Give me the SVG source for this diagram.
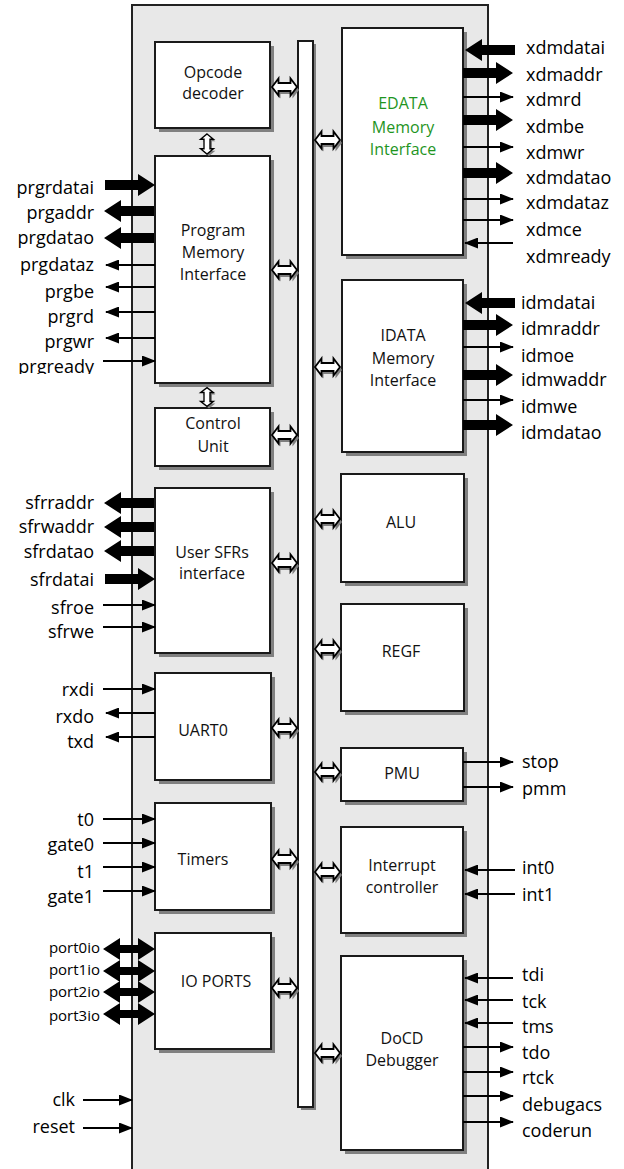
<svg xmlns="http://www.w3.org/2000/svg" xmlns:xlink="http://www.w3.org/1999/xlink" width="624" height="1169" viewBox="0 0 624 1169">
<style>
.blk{fill:#fff;stroke:#1a1a1a;stroke-width:2}
.shd{fill:#808080}
.bt{font-family:"Open Sans","Noto Sans",sans-serif;font-size:16px;fill:#111;text-anchor:middle}
.gt{fill:#1f951f}
.lr{font-family:"Open Sans","Noto Sans",sans-serif;font-size:18px;fill:#000;text-anchor:end}
.ll{font-family:"Open Sans","Noto Sans",sans-serif;font-size:18px;fill:#000;text-anchor:start}
.lp{font-size:15px}
.tn{stroke:#000;stroke-width:2;fill:none;marker-end:url(#ah)}
.tk{fill:#000}
.hb{fill:#fff;stroke:#000;stroke-width:1.8}
.hs{fill:#7f7f7f}
</style>
<defs>
<marker id="ah" markerUnits="userSpaceOnUse" markerWidth="14" markerHeight="11" refX="13" refY="5.5" orient="auto"><path d="M0,0 L14,5.5 L0,11 Z" fill="#000"/></marker>
<path id="thk" d="M-50,-5 H-17 V-11 L0,0 L-17,11 V5 H-50 Z"/>
<path id="bid" d="M0,0 L17,-11 V-4 H35 V-11 L52,0 L35,11 V4 H17 V11 Z"/>
<path id="hdb" d="M-12.5,0 L-6,-8.5 V-4 H6 V-8.5 L12.5,0 L6,8.5 V4 H-6 V8.5 Z"/>
<clipPath id="clipReady"><rect x="0" y="340" width="132" height="34"/></clipPath>
</defs>

<g id="chip">
<rect x="132" y="5" width="356" height="1175" fill="#e8e8e8" stroke="#222" stroke-width="2"/>
</g>

<g id="bus">
<rect x="301" y="44" width="15" height="1066" class="shd"/>
<rect x="298" y="41" width="15" height="1066" class="blk"/>
</g>

<g id="opcode">
<rect x="159" y="46" width="115" height="86" class="shd"/>
<rect x="155" y="42" width="115" height="86" class="blk"/>
<text class="bt" x="213" y="78">Opcode</text>
<text class="bt" x="213" y="99">decoder</text>
</g>
<g id="program">
<rect x="159" y="160" width="115" height="227" class="shd"/>
<rect x="155" y="156" width="115" height="227" class="blk"/>
<text class="bt" x="213" y="236">Program</text>
<text class="bt" x="213" y="258">Memory</text>
<text class="bt" x="213" y="280">Interface</text>
</g>
<g id="control">
<rect x="159" y="412" width="115" height="58" class="shd"/>
<rect x="155" y="408" width="115" height="58" class="blk"/>
<text class="bt" x="213" y="429">Control</text>
<text class="bt" x="213" y="452">Unit</text>
</g>
<g id="sfr">
<rect x="159" y="492" width="115" height="165" class="shd"/>
<rect x="155" y="488" width="115" height="165" class="blk"/>
<text class="bt" x="212" y="558">User SFRs</text>
<text class="bt" x="212" y="579">interface</text>
</g>
<g id="uart">
<rect x="159" y="677" width="116" height="107" class="shd"/>
<rect x="155" y="673" width="116" height="107" class="blk"/>
<text class="bt" x="203" y="736">UART0</text>
</g>
<g id="timers">
<rect x="159" y="807" width="116" height="107" class="shd"/>
<rect x="155" y="803" width="116" height="107" class="blk"/>
<text class="bt" x="203" y="865">Timers</text>
</g>
<g id="ioports">
<rect x="159" y="937" width="116" height="116" class="shd"/>
<rect x="155" y="933" width="116" height="116" class="blk"/>
<text class="bt" x="216" y="987">IO PORTS</text>
</g>
<g id="edata">
<rect x="346" y="32" width="121" height="227" class="shd"/>
<rect x="342" y="28" width="121" height="227" class="blk"/>
<text class="bt gt" x="403" y="109">EDATA</text>
<text class="bt gt" x="403" y="133">Memory</text>
<text class="bt gt" x="403" y="155">Interface</text>
</g>
<g id="idata">
<rect x="346" y="284" width="121" height="172" class="shd"/>
<rect x="342" y="280" width="121" height="172" class="blk"/>
<text class="bt" x="403" y="341">IDATA</text>
<text class="bt" x="403" y="364">Memory</text>
<text class="bt" x="403" y="386">Interface</text>
</g>
<g id="alu">
<rect x="345" y="478" width="123" height="108" class="shd"/>
<rect x="341" y="474" width="123" height="108" class="blk"/>
<text class="bt" x="401" y="528">ALU</text>
</g>
<g id="regf">
<rect x="345" y="608" width="123" height="107" class="shd"/>
<rect x="341" y="604" width="123" height="107" class="blk"/>
<text class="bt" x="401" y="657">REGF</text>
</g>
<g id="pmu">
<rect x="345" y="752" width="122" height="53" class="shd"/>
<rect x="341" y="748" width="122" height="53" class="blk"/>
<text class="bt" x="402" y="779">PMU</text>
</g>
<g id="intc">
<rect x="345" y="831" width="122" height="106" class="shd"/>
<rect x="341" y="827" width="122" height="106" class="blk"/>
<text class="bt" x="402" y="871">Interrupt</text>
<text class="bt" x="402" y="893">controller</text>
</g>
<g id="docd">
<rect x="345" y="960" width="122" height="194" class="shd"/>
<rect x="341" y="956" width="122" height="194" class="blk"/>
<text class="bt" x="402" y="1044">DoCD</text>
<text class="bt" x="402" y="1066">Debugger</text>
</g>

<g id="connectors">
<g>
<use xlink:href="#hdb" class="hs" transform="translate(286.5,90)"/><use xlink:href="#hdb" class="hb" transform="translate(284.5,87)"/>
<use xlink:href="#hdb" class="hs" transform="translate(286.5,273)"/><use xlink:href="#hdb" class="hb" transform="translate(284.5,270)"/>
<use xlink:href="#hdb" class="hs" transform="translate(286.5,438)"/><use xlink:href="#hdb" class="hb" transform="translate(284.5,435)"/>
<use xlink:href="#hdb" class="hs" transform="translate(286.5,566)"/><use xlink:href="#hdb" class="hb" transform="translate(284.5,563)"/>
<use xlink:href="#hdb" class="hs" transform="translate(286.5,731)"/><use xlink:href="#hdb" class="hb" transform="translate(284.5,728)"/>
<use xlink:href="#hdb" class="hs" transform="translate(286.5,862)"/><use xlink:href="#hdb" class="hb" transform="translate(284.5,859)"/>
<use xlink:href="#hdb" class="hs" transform="translate(286.5,991)"/><use xlink:href="#hdb" class="hb" transform="translate(284.5,988)"/>
<use xlink:href="#hdb" class="hs" transform="translate(329.5,143)"/><use xlink:href="#hdb" class="hb" transform="translate(327.5,140)"/>
<use xlink:href="#hdb" class="hs" transform="translate(329.5,370)"/><use xlink:href="#hdb" class="hb" transform="translate(327.5,367)"/>
<use xlink:href="#hdb" class="hs" transform="translate(329.5,522)"/><use xlink:href="#hdb" class="hb" transform="translate(327.5,519)"/>
<use xlink:href="#hdb" class="hs" transform="translate(329.5,652)"/><use xlink:href="#hdb" class="hb" transform="translate(327.5,649)"/>
<use xlink:href="#hdb" class="hs" transform="translate(329.5,775)"/><use xlink:href="#hdb" class="hb" transform="translate(327.5,772)"/>
<use xlink:href="#hdb" class="hs" transform="translate(329.5,875)"/><use xlink:href="#hdb" class="hb" transform="translate(327.5,872)"/>
<use xlink:href="#hdb" class="hs" transform="translate(329.5,1056)"/><use xlink:href="#hdb" class="hb" transform="translate(327.5,1053)"/>
<use xlink:href="#hdb" class="hs" transform="translate(209,146) rotate(90) scale(0.8,0.75)"/><use xlink:href="#hdb" class="hb" transform="translate(207,144) rotate(90) scale(0.8,0.75)"/>
<use xlink:href="#hdb" class="hs" transform="translate(209,399) rotate(90) scale(0.75,0.75)"/><use xlink:href="#hdb" class="hb" transform="translate(207,397) rotate(90) scale(0.75,0.75)"/>
</g>

<use xlink:href="#thk" class="tk" transform="translate(155,185)"/>
<use xlink:href="#thk" class="tk" transform="translate(104,211) scale(-1,1)"/>
<use xlink:href="#thk" class="tk" transform="translate(104,238) scale(-1,1)"/>
<line class="tn" x1="155" y1="265" x2="106" y2="265"/>
<line class="tn" x1="155" y1="287" x2="106" y2="287"/>
<line class="tn" x1="155" y1="312" x2="106" y2="312"/>
<line class="tn" x1="155" y1="338" x2="106" y2="338"/>
<line class="tn" x1="103" y1="361" x2="155" y2="361"/>
<use xlink:href="#thk" class="tk" transform="translate(104,503) scale(-1,1)"/>
<use xlink:href="#thk" class="tk" transform="translate(104,527) scale(-1,1)"/>
<use xlink:href="#thk" class="tk" transform="translate(104,551) scale(-1,1)"/>
<use xlink:href="#thk" class="tk" transform="translate(155,579)"/>
<line class="tn" x1="103" y1="605" x2="155" y2="605"/>
<line class="tn" x1="103" y1="627" x2="155" y2="627"/>
<line class="tn" x1="103" y1="689" x2="155" y2="689"/>
<line class="tn" x1="155" y1="713" x2="106" y2="713"/>
<line class="tn" x1="155" y1="737" x2="106" y2="737"/>
<line class="tn" x1="103" y1="819" x2="155" y2="819"/>
<line class="tn" x1="103" y1="843" x2="155" y2="843"/>
<line class="tn" x1="103" y1="867" x2="155" y2="867"/>
<line class="tn" x1="103" y1="891" x2="155" y2="891"/>
<use xlink:href="#bid" class="tk" transform="translate(103,949)"/>
<use xlink:href="#bid" class="tk" transform="translate(103,971)"/>
<use xlink:href="#bid" class="tk" transform="translate(103,992)"/>
<use xlink:href="#bid" class="tk" transform="translate(103,1014)"/>
<line class="tn" x1="83" y1="1100" x2="132" y2="1100"/>
<line class="tn" x1="83" y1="1128" x2="132" y2="1128"/>
<use xlink:href="#thk" class="tk" transform="translate(465,50) scale(-1,1)"/>
<use xlink:href="#thk" class="tk" transform="translate(513,73)"/>
<line class="tn" x1="463" y1="97" x2="513" y2="97"/>
<use xlink:href="#thk" class="tk" transform="translate(513,120)"/>
<line class="tn" x1="463" y1="147" x2="513" y2="147"/>
<use xlink:href="#thk" class="tk" transform="translate(513,173)"/>
<line class="tn" x1="463" y1="199" x2="513" y2="199"/>
<line class="tn" x1="463" y1="220" x2="513" y2="220"/>
<line class="tn" x1="513" y1="243" x2="465" y2="243"/>
<use xlink:href="#thk" class="tk" transform="translate(465,303) scale(-1,1)"/>
<use xlink:href="#thk" class="tk" transform="translate(513,325)"/>
<line class="tn" x1="463" y1="347" x2="513" y2="347"/>
<use xlink:href="#thk" class="tk" transform="translate(513,375)"/>
<line class="tn" x1="463" y1="400" x2="513" y2="400"/>
<use xlink:href="#thk" class="tk" transform="translate(513,425)"/>
<line class="tn" x1="463" y1="762" x2="513" y2="762"/>
<line class="tn" x1="463" y1="787" x2="513" y2="787"/>
<line class="tn" x1="515" y1="870" x2="465" y2="870"/>
<line class="tn" x1="515" y1="894" x2="465" y2="894"/>
<line class="tn" x1="513" y1="978" x2="465" y2="978"/>
<line class="tn" x1="513" y1="1000" x2="465" y2="1000"/>
<line class="tn" x1="513" y1="1023" x2="465" y2="1023"/>
<line class="tn" x1="463" y1="1047" x2="513" y2="1047"/>
<line class="tn" x1="463" y1="1072" x2="513" y2="1072"/>
<line class="tn" x1="463" y1="1096" x2="513" y2="1096"/>
<line class="tn" x1="463" y1="1122" x2="513" y2="1122"/>
</g>

<g id="labels">
<text class="lr" x="94" y="194">prgrdatai</text>
<text class="lr" x="94" y="219">prgaddr</text>
<text class="lr" x="94" y="244">prgdatao</text>
<text class="lr" x="94" y="271">prgdataz</text>
<text class="lr" x="94" y="298">prgbe</text>
<text class="lr" x="94" y="323">prgrd</text>
<text class="lr" x="94" y="348">prgwr</text>
<text class="lr" x="94" y="373" clip-path="url(#clipReady)">prgready</text>
<text class="lr" x="94" y="509">sfrraddr</text>
<text class="lr" x="94" y="533">sfrwaddr</text>
<text class="lr" x="94" y="558">sfrdatao</text>
<text class="lr" x="94" y="586">sfrdatai</text>
<text class="lr" x="94" y="614">sfroe</text>
<text class="lr" x="94" y="638">sfrwe</text>
<text class="lr" x="94" y="696">rxdi</text>
<text class="lr" x="94" y="723">rxdo</text>
<text class="lr" x="94" y="748">txd</text>
<text class="lr" x="94" y="826">t0</text>
<text class="lr" x="94" y="851">gate0</text>
<text class="lr" x="94" y="878">t1</text>
<text class="lr" x="94" y="903">gate1</text>
<text class="lr lp" x="100" y="953">port0io</text>
<text class="lr lp" x="100" y="975">port1io</text>
<text class="lr lp" x="100" y="997">port2io</text>
<text class="lr lp" x="100" y="1021">port3io</text>
<text class="lr" x="75" y="1106">clk</text>
<text class="lr" x="75" y="1133">reset</text>
<text class="ll gt" x="526" y="54">xdmdatai</text>
<text class="ll gt" x="526" y="81">xdmaddr</text>
<text class="ll gt" x="526" y="106">xdmrd</text>
<text class="ll gt" x="526" y="133">xdmbe</text>
<text class="ll gt" x="526" y="159">xdmwr</text>
<text class="ll gt" x="526" y="184">xdmdatao</text>
<text class="ll gt" x="526" y="209">xdmdataz</text>
<text class="ll gt" x="526" y="236">xdmce</text>
<text class="ll gt" x="526" y="263">xdmready</text>
<text class="ll" x="521" y="309">idmdatai</text>
<text class="ll" x="521" y="335">idmraddr</text>
<text class="ll" x="521" y="362">idmoe</text>
<text class="ll" x="521" y="386">idmwaddr</text>
<text class="ll" x="521" y="413">idmwe</text>
<text class="ll" x="521" y="439">idmdatao</text>
<text class="ll" x="522" y="768">stop</text>
<text class="ll" x="522" y="795">pmm</text>
<text class="ll" x="522" y="874">int0</text>
<text class="ll" x="522" y="901">int1</text>
<text class="ll" x="522" y="981">tdi</text>
<text class="ll" x="522" y="1008">tck</text>
<text class="ll" x="522" y="1033">tms</text>
<text class="ll" x="522" y="1059">tdo</text>
<text class="ll" x="522" y="1084">rtck</text>
<text class="ll" x="522" y="1111">debugacs</text>
<text class="ll" x="522" y="1137">coderun</text>
</g>
</svg>
